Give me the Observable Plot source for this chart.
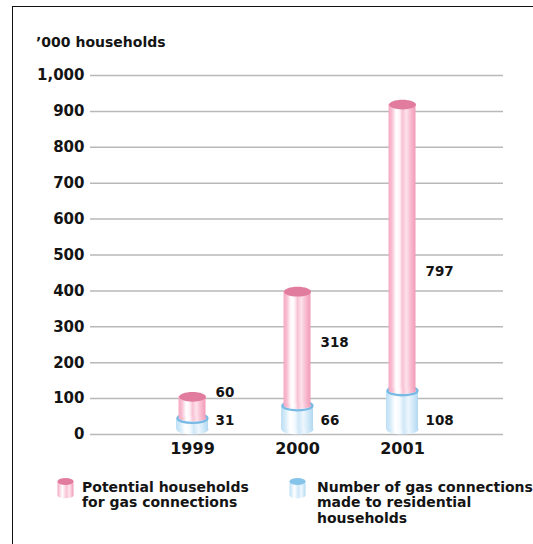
<!DOCTYPE html>
<html>
<head>
<meta charset="utf-8">
<script src="https://cdn.jsdelivr.net/npm/d3@7"></script>
<script src="https://cdn.jsdelivr.net/npm/@observablehq/plot@0.6"></script>
<style>
  html, body { margin: 0; padding: 0; background: #fff; }
  body { width: 533px; height: 544px; position: relative; overflow: hidden; font-family: "DejaVu Sans", sans-serif; color: #141414; }
  #frame { position: absolute; left: 12px; top: 6px; width: 600px; height: 600px; border-left: 1.6px solid #111; border-top: 1.6px solid #111; }
  #chart { position: absolute; left: 0; top: 0; }
  .ylab { position: absolute; left: 36px; top: 35px; font-size: 14px; font-weight: bold; line-height: 1; white-space: nowrap; }
  .legtext { position: absolute; font-size: 14px; font-weight: bold; line-height: 15.5px; white-space: nowrap; }
  .legicon { position: absolute; }
</style>
</head>
<body>
<div id="frame"></div>
<div id="chart"></div>
<div class="ylab">’000 households</div>
<svg class="legicon" style="left:57px;top:477px" width="17" height="22" viewBox="0 0 17 22">
  <defs>
    <linearGradient id="legPink" x1="0" x2="1" y1="0" y2="0">
      <stop offset="0" stop-color="#f5a9c3"/><stop offset="0.3" stop-color="#ffffff"/>
      <stop offset="0.55" stop-color="#f9c4d5"/><stop offset="0.75" stop-color="#fde3ec"/>
      <stop offset="1" stop-color="#f29ab7"/>
    </linearGradient>
  </defs>
  <rect x="0.5" y="4.5" width="16" height="14" fill="url(#legPink)"/>
  <ellipse cx="8.5" cy="18.5" rx="8" ry="2.8" fill="url(#legPink)"/>
  <ellipse cx="8.5" cy="4.5" rx="8" ry="3.4" fill="#e17c9f"/>
</svg>
<div class="legtext" style="left:82px;top:479.5px">Potential households<br>for gas connections</div>
<svg class="legicon" style="left:289px;top:477px" width="17" height="22" viewBox="0 0 17 22">
  <defs>
    <linearGradient id="legBlue" x1="0" x2="1" y1="0" y2="0">
      <stop offset="0" stop-color="#bcdff5"/><stop offset="0.3" stop-color="#ffffff"/>
      <stop offset="0.55" stop-color="#cfe8f8"/><stop offset="0.75" stop-color="#eef7fd"/>
      <stop offset="1" stop-color="#b3daf3"/>
    </linearGradient>
  </defs>
  <rect x="0.5" y="4.5" width="16" height="14" fill="url(#legBlue)"/>
  <ellipse cx="8.5" cy="18.5" rx="8" ry="2.8" fill="url(#legBlue)"/>
  <ellipse cx="8.5" cy="4.5" rx="8" ry="3.4" fill="#86c4ea"/>
</svg>
<div class="legtext" style="left:317px;top:479.5px">Number of gas connections<br>made to residential<br>households</div>
<script>
// ---- data ----
const years = ["1999", "2000", "2001"];
const connections = [31, 66, 108];          // blue: gas connections made to residential households ('000)
const potential = [60, 318, 797];           // pink: potential households for gas connections ('000)
const potentialLabelAt = [117, 256, 454];   // where the pink value labels sit (in '000 households)
const connectionsLabelAt = [39, 39, 39];    // where the blue value labels sit
const yTicks = [0, 100, 200, 300, 400, 500, 600, 700, 800, 900, 1000];

const rows = years.map((year, i) => ({
  year,
  connections: connections[i],
  potential: potential[i],
  total: connections[i] + potential[i],
  pLab: potentialLabelAt[i],
  cLab: connectionsLabelAt[i]
}));

// ellipse symbol for cylinder caps
function ellipse(ratio) {
  return {
    draw(ctx, size) {
      const rx = Math.sqrt(size / Math.PI), ry = rx * ratio, k = 0.5523;
      ctx.moveTo(rx, 0);
      ctx.bezierCurveTo(rx, ry * k, rx * k, ry, 0, ry);
      ctx.bezierCurveTo(-rx * k, ry, -rx, ry * k, -rx, 0);
      ctx.bezierCurveTo(-rx, -ry * k, -rx * k, -ry, 0, -ry);
      ctx.bezierCurveTo(rx * k, -ry, rx, -ry * k, rx, 0);
      ctx.closePath();
    }
  };
}

const lift = -5;

const chart = Plot.plot({
  width: 533,
  height: 470,
  marginLeft: 90,
  marginRight: 30,
  marginTop: 75,
  marginBottom: 36,
  style: { background: "none", fontFamily: "'DejaVu Sans', sans-serif", fontWeight: "bold", fontSize: "15px", color: "#141414", overflow: "visible" },
  x: { domain: years, paddingInner: 0.6967, paddingOuter: 0.8057, align: 0.5, label: null },
  y: { domain: [0, 1000], label: null },
  marks: [
    Plot.ruleY(yTicks, { stroke: "#b9b9b9", strokeWidth: 1.5 }),
    Plot.axisY(yTicks, { tickSize: 0, tickPadding: 6, tickFormat: d3.format(","), label: null, fontSize: 15 }),
    Plot.axisX({ tickSize: 0, tickPadding: 8, label: null, fontSize: 16 }),
    // blue cylinder
    Plot.dot(rows, { x: "year", y: () => 0, r: 16, symbol: ellipse(0.3), fill: "url(#blueBody)", dy: lift }),
    Plot.barY(rows, { x: "year", y1: () => 0, y2: "connections", fill: "url(#blueBody)", dy: lift }),
    Plot.dot(rows, { x: "year", y: "connections", r: 15, symbol: ellipse(0.3), fill: "#d8edf9", stroke: "#78bae4", strokeWidth: 2.3, dy: lift }),
    // pink cylinder
    Plot.barY(rows, { x: "year", y1: "connections", y2: "total", fill: "url(#pinkBody)", insetLeft: 2.5, insetRight: 2.5, dy: lift }),
    Plot.dot(rows, { x: "year", y: "connections", r: 13.5, symbol: ellipse(0.22), fill: "url(#pinkBody)", dy: lift }),
    Plot.dot(rows, { x: "year", y: "total", r: 13.5, symbol: ellipse(0.36), fill: "#e17c9f", dy: lift }),
    // value labels
    Plot.text(rows, { x: "year", y: "pLab", text: d => String(d.potential), textAnchor: "start", dx: 23, fontSize: 13.5 }),
    Plot.text(rows, { x: "year", y: "cLab", text: d => String(d.connections), textAnchor: "start", dx: 23, fontSize: 13.5 })
  ]
});

const ns = "http://www.w3.org/2000/svg";
const defs = document.createElementNS(ns, "defs");
defs.innerHTML = `
  <linearGradient id="pinkBody" x1="0" x2="1" y1="0" y2="0">
    <stop offset="0" stop-color="#f5a9c3"/>
    <stop offset="0.12" stop-color="#f8bdd0"/>
    <stop offset="0.28" stop-color="#ffffff"/>
    <stop offset="0.4" stop-color="#fff5f8"/>
    <stop offset="0.52" stop-color="#f8c2d4"/>
    <stop offset="0.66" stop-color="#fde2eb"/>
    <stop offset="0.82" stop-color="#f8bcd0"/>
    <stop offset="1" stop-color="#f29ab7"/>
  </linearGradient>
  <linearGradient id="blueBody" x1="0" x2="1" y1="0" y2="0">
    <stop offset="0" stop-color="#bcdff5"/>
    <stop offset="0.12" stop-color="#d2eaf9"/>
    <stop offset="0.28" stop-color="#ffffff"/>
    <stop offset="0.42" stop-color="#f6fbfe"/>
    <stop offset="0.55" stop-color="#d0e8f8"/>
    <stop offset="0.7" stop-color="#edf6fd"/>
    <stop offset="0.85" stop-color="#cfe8f8"/>
    <stop offset="1" stop-color="#b2d9f2"/>
  </linearGradient>`;
chart.insertBefore(defs, chart.firstChild);
document.getElementById("chart").appendChild(chart);
</script>
</body>
</html>
